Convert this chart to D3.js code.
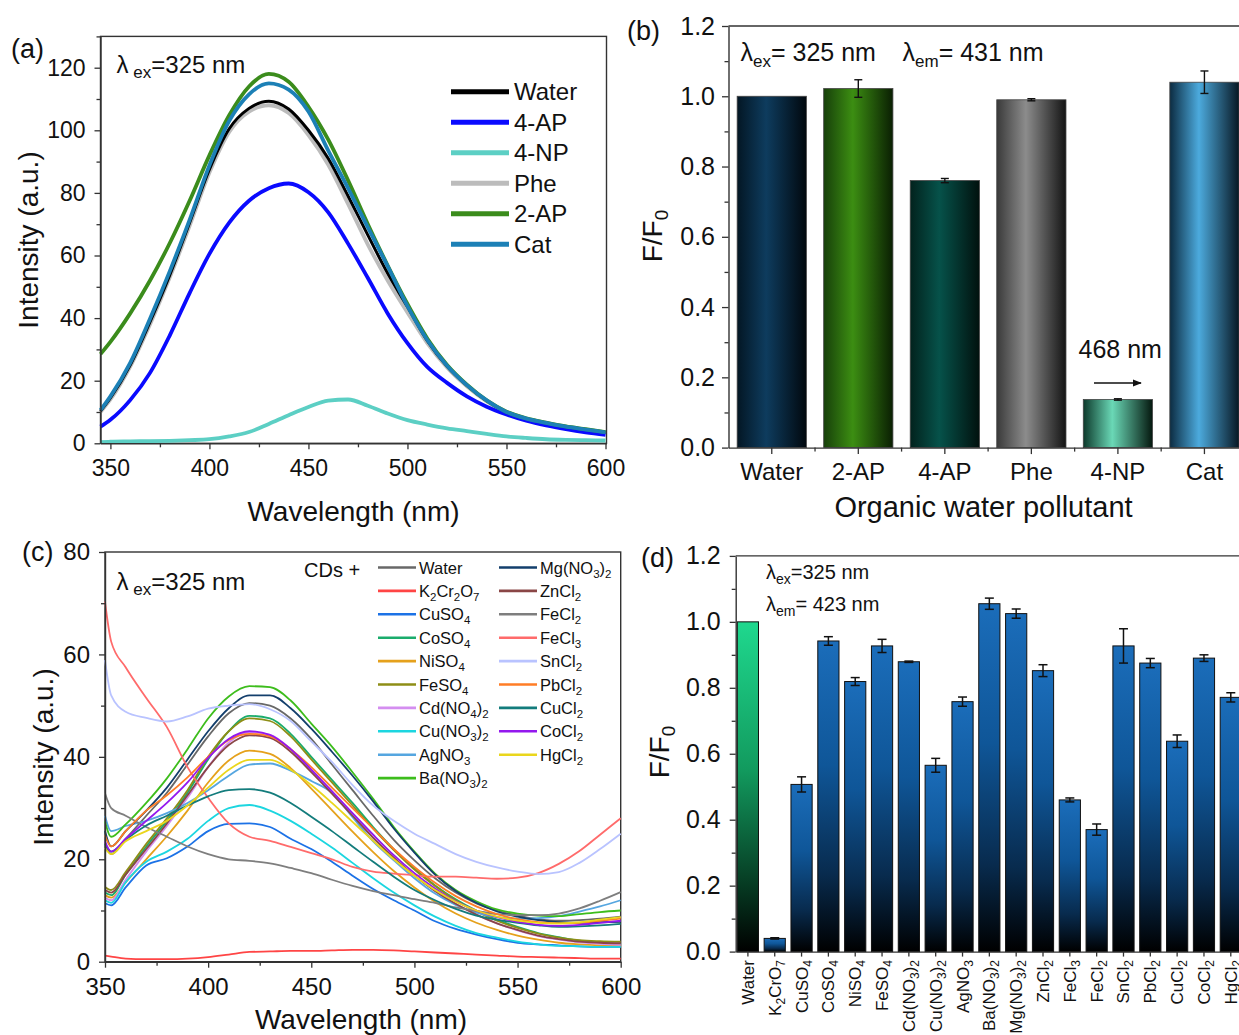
<!DOCTYPE html>
<html><head><meta charset="utf-8">
<script src="https://cdn.jsdelivr.net/npm/d3@7"></script>
<style>
body{margin:0;background:#fff}
svg{display:block}
text{font-family:"Liberation Sans",Arial,Helvetica,sans-serif;fill:#111}
</style>
</head><body>
<svg id="fig" width="1239" height="1035"></svg>
<script>
// ---------------- DATA ----------------
// Panel (a): emission spectra with organic pollutants
const wlA = [345,350,360,370,380,390,400,410,420,430,440,450,460,470,480,490,500,510,520,530,540,550,560,570,580,590,600];
const aWater = [10.3,14.5,25,38.8,53.8,70.5,87.5,100.5,107,109.3,106.8,100,91,79,66.5,54.3,43.6,32.8,24.6,18.5,13.6,10,7.9,6.5,5.3,4.4,3.5];
const a4AP   = [5.3,7.5,13.8,22.5,34.5,48,60.5,70.5,77.5,81.5,83,80.2,73.8,63.8,52.8,41.5,32,24.4,19.3,15,11.7,9.2,7.2,5.7,4.5,3.5,2.7];
const a4NP   = [0.4,0.5,0.6,0.7,0.8,1,1.3,2.2,3.6,6.2,9,11.6,13.6,14.0,12.0,9.5,7.4,6,4.8,3.9,3,2.2,1.7,1.3,1.1,1,0.9];
const aPhe   = [10,14,24.5,38,53,69.5,86.5,99.5,106,108,105.5,98.5,89,76.5,63.5,52,41.8,32,24.2,18.2,13.4,9.9,7.8,6.4,5.2,4.3,3.4];
const a2AP   = [28.5,32.4,41.5,52,64,77.5,92,104.8,114,118,115.5,107.5,97,84,70,56.8,44.5,33.5,25,18.7,13.7,10.1,8,6.6,5.4,4.5,3.6];
const aCat   = [10.6,15,25.7,39.8,55,71.4,88.8,103,111.5,115,113,106,93.5,81.5,69,56.6,43.8,33,24.8,18.6,13.7,10,7.9,6.5,5.3,4.4,3.5];
const aNames = ["Water","4-AP","4-NP","Phe","2-AP","Cat"];

// Panel (b): F/F0 organic pollutants
const bCats = ["Water","2-AP","4-AP","Phe","4-NP","Cat"];
const bVals = [1.0,1.022,0.76,0.99,0.137,1.04];
const bErr  = [0,0.025,0.006,0.003,0.002,0.032];

// Panel (c): emission spectra with metal salts
const wlC = [350,353,360,370,380,390,400,410,420,430,440,450,460,470,480,490,500,510,520,530,540,550,560,570,580,590,600];
const cWater   = [23,21,24,28.5,33,38.5,44,48.5,50.5,50,47.5,43.5,38.5,33.5,28.5,23.8,19.8,16.3,13.5,11.4,10,9,8.3,8,8.1,8.4,8.8];
const cK2Cr2O7 = [1.2,1.0,0.6,0.5,0.5,0.6,0.9,1.4,1.9,2.0,2.1,2.1,2.2,2.3,2.3,2.2,2.0,1.8,1.6,1.4,1.2,1.0,0.9,0.8,0.7,0.6,0.6];
const cCuSO4   = [11.4,11.0,14.5,18.8,20.2,22.5,25.5,26.9,27,26.3,24,22,19.5,16.8,14.2,12,10,7.9,6.4,5.3,4.4,3.7,3.4,3.2,3.0,2.9,2.9];
const cCoSO4   = [13.5,13,17,22.5,27.5,33,39.5,45,48,47.5,44.5,40,35.5,31,26.3,22,18.2,14.9,12.2,10,8.2,6.8,5.6,4.8,4.1,3.7,3.5];
const cNiSO4   = [13,12.5,15.5,20,24.5,29.5,35,39.3,41.2,40.6,37.8,33.8,29.6,25.4,21.4,17.7,14.5,11.7,9.4,7.6,6.2,5.1,4.3,3.7,3.4,3.2,3.1];
const cFeSO4   = [14.6,14,17.5,23,28,33.5,40,45,47.5,47,44,39.5,35,30.5,26,21.8,18,14.8,12,9.8,8,6.6,5.5,4.7,4.2,4,3.9];
const cCdNO42  = [12.5,12,16,21.5,26.5,32,38,42.8,44.8,44.3,41.5,37.3,33,28.6,24.3,20.3,16.8,13.8,11.2,9.2,7.5,6.1,5,4.3,3.8,3.5,3.3];
const cCuNO32  = [12,11.5,15.5,19.5,21.5,24,27.5,30,30.6,29.5,27.5,25,22.3,19.3,16.3,13.5,11,8.8,7,5.6,4.7,3.9,3.4,3.1,3.0,2.9,2.9];
const cAgNO3   = [28.5,25.5,26.5,27.5,29,31,33.5,36.3,38.5,38.7,37.3,35.3,33,28.2,23.5,19.8,16.3,13.3,11.1,9.6,8.7,8.4,8.5,8.9,9.8,10.8,12];
const cBaNO32  = [27.4,24.4,26.8,31,35.8,41.5,47.5,51.8,53.8,53.6,51,46.5,42,37,31.8,26.3,21.5,17.2,14,11.8,10.2,9.4,9,8.9,9.3,9.7,10];
const cMgNO32  = [25.5,22.5,25.5,29.5,34,39.5,45,49.5,52,52,49.5,45.5,41,36.3,31.3,26,21.3,17,13.8,11.5,9.8,8.8,8.1,7.7,7.6,7.7,7.8];
const cZnCl2   = [14,13.5,17,22,27,32.5,38,42.3,44.2,43.7,41,37,32.8,28.5,24.2,20.3,16.8,13.8,11.3,9.2,7.5,6.2,5.1,4.4,3.9,3.7,3.6];
const cFeCl2   = [32.9,30,28.5,26.3,24.4,22.5,21,20,19.7,19.2,18.3,17.3,16,14.8,13.8,13,12.2,11.5,10.6,9.9,9.3,9.1,9.1,9.4,10.4,11.9,13.6];
const cFeCl3   = [70.3,62.5,57.5,51.5,45.8,38,32,27,24.4,23.6,22.4,21.2,20,18.5,17.6,17.2,16.9,16.6,16.6,16.4,16.2,16.4,17.3,19.1,21.6,24.8,28];
const cSnCl2   = [58.9,52,48.8,47.6,46.9,47.9,49.4,50,50.3,49.3,47,43,39,34.5,30.5,27.5,25,23,21,19.5,18.4,17.6,17.1,17.5,19.3,22,25];
const cPbCl2   = [24.7,22.5,25.5,29.5,32.5,36,40,43.3,44.5,44,41.5,38,34,30,26,22,18.5,15.4,12.8,10.8,9.3,8.3,7.7,7.5,7.6,8,8.4];
const cCuCl2   = [23,21.5,23.8,26.6,28.5,30.5,32.3,33.5,33.7,33,31,28.3,25.5,22.5,19.5,16.6,14,12,10.3,9,8.2,7.6,7.1,6.8,6.9,7.1,7.4];
const cCoCl2   = [23.5,21.5,24,27.5,31,35,39.8,43.5,45,44.3,41.5,37.5,33.3,29,24.8,20.8,17.3,14.3,11.8,10,8.7,7.8,7.2,7,7.2,7.6,8];
const cHgCl2   = [22.2,21,23.5,25.5,27.5,30.5,34,37.5,39.4,39.4,37.5,34.5,31,27.3,23.6,20,16.8,14,11.7,10,8.8,8,7.6,7.5,7.7,8.2,8.7];
const cNames = ["Water","K_2Cr_2O_7","CuSO_4","CoSO_4","NiSO_4","FeSO_4","Cd(NO_4)_2","Cu(NO_3)_2","AgNO_3","Ba(NO_3)_2",
                "Mg(NO_3)_2","ZnCl_2","FeCl_2","FeCl_3","SnCl_2","PbCl_2","CuCl_2","CoCl_2","HgCl_2"];

// Panel (d): F/F0 metal salts
const dCats = ["Water","K_2CrO_7","CuSO_4","CoSO_4","NiSO_4","FeSO_4","Cd(NO_3)_2","Cu(NO_3)_2","AgNO_3","Ba(NO_3)_2",
               "Mg(NO_3)_2","ZnCl_2","FeCl_3","FeCl_2","SnCl_2","PbCl_2","CuCl_2","CoCl_2","HgCl_2"];
const dVals = [1.0,0.04,0.507,0.942,0.819,0.927,0.879,0.565,0.758,1.055,1.025,0.852,0.46,0.37,0.927,0.875,0.638,0.89,0.771];
const dErr  = [0,0.002,0.023,0.013,0.012,0.02,0.002,0.021,0.014,0.017,0.014,0.018,0.006,0.017,0.052,0.014,0.019,0.01,0.014];

// ---------------- STYLE ----------------
const aColors = {"Water":"#000000","4-AP":"#0a0aff","4-NP":"#5ccfc4","Phe":"#bcbcbc","2-AP":"#3b8c1c","Cat":"#1c80b6"};
const cColors = ["#686868","#ff4545","#1c72e6","#1aac6c","#e5a11c","#8e8e16","#d48ef0","#1cd6e0","#55a6e0","#3dbd1c",
                 "#133f6c","#8a4646","#7e7e7e","#ff6b6b","#b9c3ff","#ff7d26","#137c7c","#9418ee","#ead61c"];
const bGrad = [["#031624","#0e3c5e","#01080e"],["#17400a","#3c8e12","#0a1f03"],["#02221d","#06524a","#01110e"],
               ["#3a3a3a","#8c8c8c","#141414"],["#0d3a2c","#6ad8b6","#05180f"],["#0c2c42","#4caadd","#081824"]];

const svg = d3.select("#fig");
const defs = svg.append("defs");
const AX = "#333";

function rich(t, str, subSize, subDy){
  let down=false;
  str.split(/(_\{[^}]*\}|_.)/).filter(s=>s.length).forEach(tok=>{
    if(tok[0]==='_'){
      const txt = tok[1]==='{' ? tok.slice(2,-1) : tok.slice(1);
      const s=t.append("tspan").text(txt).attr("font-size",subSize);
      if(!down){s.attr("dy",subDy);down=true;}
    } else {
      const s=t.append("tspan").text(tok);
      if(down){s.attr("dy",-subDy);down=false;}
    }
  });
  return t;
}
function styleAxis(g, fs){
  g.select(".domain").attr("stroke",AX).attr("stroke-width",1.4);
  g.selectAll(".tick line").attr("stroke",AX).attr("stroke-width",1.3);
  g.selectAll(".tick text").attr("font-size",fs).attr("fill","#111")
    .attr("font-family","'Liberation Sans',Arial,sans-serif");
}
function minor(g, axis){
  g.call(axis.tickFormat("").tickSize(4).tickSizeOuter(0));
  g.select(".domain").remove();
  g.selectAll(".tick line").attr("stroke",AX).attr("stroke-width",1.3);
}
function frame(x0,y0,x1,y1){
  svg.append("rect").attr("x",x0).attr("y",y0).attr("width",x1-x0).attr("height",y1-y0)
    .attr("fill","none").attr("stroke",AX).attr("stroke-width",1.4);
}

// ---------------- PANEL (a) ----------------
{
  const x = d3.scaleLinear([345,600.5],[100.5,606.5]);
  const y = d3.scaleLinear([0,130],[443.3,36.4]);
  frame(100.5,36.4,606.5,443.3);
  const series = {"Water":aWater,"4-AP":a4AP,"4-NP":a4NP,"Phe":aPhe,"2-AP":a2AP,"Cat":aCat};
  const line = d3.line().x((d,i)=>x(wlA[i])).y(d=>y(d)).curve(d3.curveMonotoneX);
  ["4-NP","Phe","Water","4-AP","2-AP","Cat"].forEach(n=>{
    svg.append("path").attr("d",line(series[n])).attr("fill","none")
      .attr("stroke",aColors[n]).attr("stroke-width",n==="Water"?3:3.8).attr("stroke-linejoin","round");
  });
  const gx = svg.append("g").attr("transform","translate(0,443.3)")
    .call(d3.axisBottom(x).tickValues([350,400,450,500,550,600]).tickSize(6).tickSizeOuter(0).tickPadding(10));
  styleAxis(gx,23);
  minor(svg.append("g").attr("transform","translate(0,443.3)"), d3.axisBottom(x).tickValues([375,425,475,525,575]));
  const gy = svg.append("g").attr("transform","translate(100.5,0)")
    .call(d3.axisLeft(y).tickValues([0,20,40,60,80,100,120]).tickSize(6).tickSizeOuter(0).tickPadding(9));
  styleAxis(gy,23);
  minor(svg.append("g").attr("transform","translate(100.5,0)"), d3.axisLeft(y).tickValues([10,30,50,70,90,110,130]));
  aNames.forEach((n,i)=>{
    const yy = 91.7 + i*30.5;
    svg.append("line").attr("x1",451).attr("x2",509).attr("y1",yy).attr("y2",yy)
      .attr("stroke",aColors[n]).attr("stroke-width",5);
    svg.append("text").attr("x",514).attr("y",yy+8.5).attr("font-size",24).text(n);
  });
  svg.append("text").attr("x",11).attr("y",58).attr("font-size",27).text("(a)");
  rich(svg.append("text").attr("x",116.5).attr("y",73).attr("font-size",24),"λ\u2009_{ex}=325 nm",17,5);
  svg.append("text").attr("transform","translate(38,240) rotate(-90)").attr("text-anchor","middle")
    .attr("font-size",28).text("Intensity (a.u.)");
  svg.append("text").attr("x",353.5).attr("y",521).attr("text-anchor","middle").attr("font-size",28).text("Wavelength (nm)");
}

// ---------------- PANEL (b) ----------------
{
  const x = d3.scaleBand(bCats,[728.5,1247.7]).paddingInner(0.2).paddingOuter(0.1);
  const y = d3.scaleLinear([0,1.2],[447.6,26]);
  bGrad.forEach((c,i)=>{
    const g = defs.append("linearGradient").attr("id","gb"+i).attr("x1",0).attr("x2",1).attr("y1",0).attr("y2",0);
    g.append("stop").attr("offset","0%").attr("stop-color",c[0]);
    g.append("stop").attr("offset","42%").attr("stop-color",c[1]);
    g.append("stop").attr("offset","100%").attr("stop-color",c[2]);
  });
  svg.append("line").attr("x1",728.5).attr("x2",1239).attr("y1",26).attr("y2",26).attr("stroke",AX).attr("stroke-width",1.4);
  svg.selectAll(".barb").data(bCats).join("rect").attr("class","barb")
    .attr("x",d=>x(d)).attr("width",x.bandwidth())
    .attr("y",(d,i)=>y(bVals[i])).attr("height",(d,i)=>y(0)-y(bVals[i]))
    .attr("fill",(d,i)=>`url(#gb${i})`).attr("stroke","#444").attr("stroke-width",0.8);
  bCats.forEach((c,i)=>{
    if(!bErr[i]) return;
    const cx = x(c)+x.bandwidth()/2, y0=y(bVals[i]-bErr[i]), y1=y(bVals[i]+bErr[i]);
    svg.append("line").attr("x1",cx).attr("x2",cx).attr("y1",y0).attr("y2",y1).attr("stroke","#111").attr("stroke-width",1.4);
    [y0,y1].forEach(yy=>svg.append("line").attr("x1",cx-4).attr("x2",cx+4).attr("y1",yy).attr("y2",yy).attr("stroke","#111").attr("stroke-width",1.4));
  });
  const gx = svg.append("g").attr("transform","translate(0,447.6)")
    .call(d3.axisBottom(x).tickSize(6.5).tickSizeOuter(0).tickPadding(9));
  styleAxis(gx,24);
  bCats.slice(1).forEach(c=>{
    const bx = x(c) - x.step()*x.paddingInner()/2;
    svg.append("line").attr("x1",bx).attr("x2",bx).attr("y1",447.6).attr("y2",451.6).attr("stroke",AX).attr("stroke-width",1.3);
  });
  const gy = svg.append("g").attr("transform","translate(728.5,0)")
    .call(d3.axisLeft(y).tickValues([0,0.2,0.4,0.6,0.8,1.0,1.2]).tickFormat(d3.format(".1f")).tickSize(6.5).tickSizeOuter(0).tickPadding(7));
  styleAxis(gy,25);
  minor(svg.append("g").attr("transform","translate(728.5,0)"), d3.axisLeft(y).tickValues([0.1,0.3,0.5,0.7,0.9,1.1]));
  svg.append("text").attr("x",627).attr("y",40).attr("font-size",27).text("(b)");
  rich(svg.append("text").attr("x",740.5).attr("y",61).attr("font-size",25),"λ_{ex}= 325 nm",17,6);
  rich(svg.append("text").attr("x",902.5).attr("y",61).attr("font-size",25),"λ_{em}= 431 nm",17,6);
  svg.append("text").attr("x",1078.5).attr("y",358).attr("font-size",25).text("468 nm");
  defs.append("marker").attr("id","arr").attr("viewBox","0 0 10 10").attr("refX",9).attr("refY",5)
    .attr("markerWidth",6).attr("markerHeight",6).attr("orient","auto")
    .append("path").attr("d","M0,1 L10,5 L0,9 Z").attr("fill","#111");
  svg.append("line").attr("x1",1094).attr("x2",1141).attr("y1",383).attr("y2",383)
    .attr("stroke","#111").attr("stroke-width",1.5).attr("marker-end","url(#arr)");
  rich(svg.append("text").attr("transform","translate(662,236) rotate(-90)").attr("text-anchor","middle").attr("font-size",28),"F/F_0",19,6);
  svg.append("text").attr("x",983.5).attr("y",517).attr("text-anchor","middle").attr("font-size",29).text("Organic water pollutant");
}

// ---------------- PANEL (c) ----------------
{
  const x = d3.scaleLinear([350,600],[105,620.7]);
  const y = d3.scaleLinear([0,80],[961.7,552]);
  frame(105,552,620.7,961.7);
  const data = [cWater,cK2Cr2O7,cCuSO4,cCoSO4,cNiSO4,cFeSO4,cCdNO42,cCuNO32,cAgNO3,cBaNO32,
                cMgNO32,cZnCl2,cFeCl2,cFeCl3,cSnCl2,cPbCl2,cCuCl2,cCoCl2,cHgCl2];
  const line = d3.line().x((d,i)=>x(wlC[i])).y(d=>y(d)).curve(d3.curveMonotoneX);
  data.forEach((s,i)=>{
    svg.append("path").attr("d",line(s)).attr("fill","none").attr("stroke",cColors[i])
      .attr("stroke-width",1.8).attr("stroke-linejoin","round");
  });
  const gx = svg.append("g").attr("transform","translate(0,961.7)")
    .call(d3.axisBottom(x).tickValues([350,400,450,500,550,600]).tickSize(6).tickSizeOuter(0).tickPadding(10));
  styleAxis(gx,24);
  minor(svg.append("g").attr("transform","translate(0,961.7)"), d3.axisBottom(x).tickValues([375,425,475,525,575]));
  const gy = svg.append("g").attr("transform","translate(105,0)")
    .call(d3.axisLeft(y).tickValues([0,20,40,60,80]).tickSize(6).tickSizeOuter(0).tickPadding(9));
  styleAxis(gy,24);
  minor(svg.append("g").attr("transform","translate(105,0)"), d3.axisLeft(y).tickValues([10,30,50,70]));
  svg.append("text").attr("x",304).attr("y",577).attr("font-size",20).text("CDs +");
  cNames.forEach((n,i)=>{
    const col = i<10?0:1, row = i<10?i:i-10;
    const yy = 567.5 + row*23.4;
    const lx = col===0?378:499;
    svg.append("line").attr("x1",lx).attr("x2",lx+38).attr("y1",yy).attr("y2",yy)
      .attr("stroke",cColors[i]).attr("stroke-width",2.6);
    rich(svg.append("text").attr("x",lx+41).attr("y",yy+6).attr("font-size",16.5).attr("fill","#222"),n,11.5,4);
  });
  svg.append("text").attr("x",22).attr("y",561).attr("font-size",27).text("(c)");
  rich(svg.append("text").attr("x",116.5).attr("y",590).attr("font-size",24),"λ\u2009_{ex}=325 nm",17,5);
  svg.append("text").attr("transform","translate(53,757) rotate(-90)").attr("text-anchor","middle")
    .attr("font-size",28).text("Intensity (a.u.)");
  svg.append("text").attr("x",361).attr("y",1029).attr("text-anchor","middle").attr("font-size",28).text("Wavelength (nm)");
}

// ---------------- PANEL (d) ----------------
{
  const x = d3.scaleBand(dCats,[735.7,1243]).paddingInner(0.21).paddingOuter(0.06);
  const y = d3.scaleLinear([0,1.2],[951.6,555.9]);
  const gB = defs.append("linearGradient").attr("id","gdBlue").attr("x1",0).attr("x2",0).attr("y1",0).attr("y2",1);
  [["0%","#1b6dba"],["40%","#0f5698"],["75%","#082b4e"],["100%","#000000"]].forEach(s=>gB.append("stop").attr("offset",s[0]).attr("stop-color",s[1]));
  const gG = defs.append("linearGradient").attr("id","gdGreen").attr("x1",0).attr("x2",0).attr("y1",0).attr("y2",1);
  [["0%","#1fd88e"],["45%","#129a5e"],["80%","#063a22"],["100%","#000000"]].forEach(s=>gG.append("stop").attr("offset",s[0]).attr("stop-color",s[1]));
  svg.append("line").attr("x1",735.7).attr("x2",1239).attr("y1",555.9).attr("y2",555.9).attr("stroke",AX).attr("stroke-width",1.4);
  svg.selectAll(".bard").data(dCats).join("rect").attr("class","bard")
    .attr("x",d=>x(d)).attr("width",x.bandwidth())
    .attr("y",(d,i)=>y(dVals[i])).attr("height",(d,i)=>y(0)-y(dVals[i]))
    .attr("fill",(d,i)=>i===0?"url(#gdGreen)":"url(#gdBlue)").attr("stroke","#111").attr("stroke-width",1);
  dCats.forEach((c,i)=>{
    if(!dErr[i]) return;
    const cx = x(c)+x.bandwidth()/2, y0=y(dVals[i]-dErr[i]), y1=y(dVals[i]+dErr[i]);
    svg.append("line").attr("x1",cx).attr("x2",cx).attr("y1",y0).attr("y2",y1).attr("stroke","#111").attr("stroke-width",1.5);
    [y0,y1].forEach(yy=>svg.append("line").attr("x1",cx-4.5).attr("x2",cx+4.5).attr("y1",yy).attr("y2",yy).attr("stroke","#111").attr("stroke-width",1.5));
  });
  const gx = svg.append("g").attr("transform","translate(0,951.6)")
    .call(d3.axisBottom(x).tickSize(5).tickSizeOuter(0).tickFormat(""));
  styleAxis(gx,17);
  dCats.forEach(c=>{
    const cx = x(c)+x.bandwidth()/2;
    rich(svg.append("text").attr("transform",`translate(${cx+6},960) rotate(-90)`).attr("text-anchor","end")
      .attr("font-size",17),c,12,4);
  });
  const gy = svg.append("g").attr("transform","translate(735.7,0)")
    .call(d3.axisLeft(y).tickValues([0,0.2,0.4,0.6,0.8,1.0,1.2]).tickFormat(d3.format(".1f")).tickSize(6).tickSizeOuter(0).tickPadding(9));
  styleAxis(gy,25);
  minor(svg.append("g").attr("transform","translate(735.7,0)"), d3.axisLeft(y).tickValues([0.1,0.3,0.5,0.7,0.9,1.1]));
  svg.append("text").attr("x",641).attr("y",567).attr("font-size",27).text("(d)");
  rich(svg.append("text").attr("x",766).attr("y",579).attr("font-size",20),"λ_{ex}=325 nm",14,5);
  rich(svg.append("text").attr("x",766).attr("y",611).attr("font-size",20),"λ_{em}= 423 nm",14,5);
  rich(svg.append("text").attr("transform","translate(669,752) rotate(-90)").attr("text-anchor","middle").attr("font-size",28),"F/F_0",19,6);
}
</script>
</body></html>
